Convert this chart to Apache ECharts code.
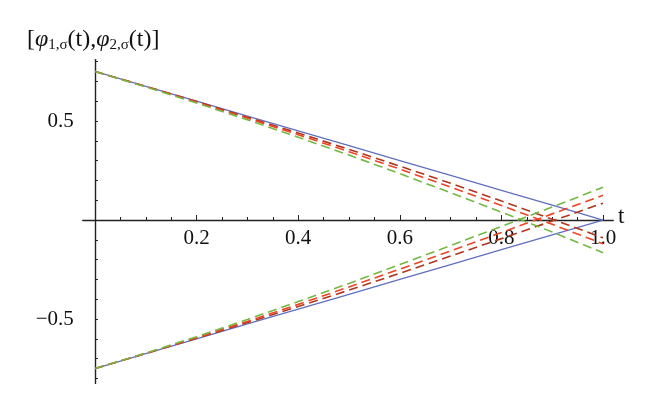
<!DOCTYPE html>
<html><head><meta charset="utf-8">
<script src="https://cdn.jsdelivr.net/npm/echarts@6/dist/echarts.min.js"></script>
<style>html,body{margin:0;padding:0;background:#fff}#c{width:660px;height:416px}</style>
</head><body><div id="c"></div>
<script>
var t = [0, 0.1, 0.2, 0.3, 0.4, 0.5, 0.6, 0.7, 0.8, 0.9, 1.0];
var blueUpper = [0.75, 0.675, 0.6, 0.525, 0.45, 0.375, 0.3, 0.225, 0.15, 0.075, 0];
var blueLower = [-0.75, -0.675, -0.6, -0.525, -0.45, -0.375, -0.3, -0.225, -0.15, -0.075, 0];
var darkRedUpper = [0.75, 0.675, 0.598, 0.519, 0.439, 0.357, 0.272, 0.186, 0.096, 0.004, -0.09];
var redUpper = [0.75, 0.674, 0.595, 0.514, 0.431, 0.345, 0.257, 0.166, 0.073, -0.022, -0.12];
var greenUpper = [0.75, 0.672, 0.591, 0.506, 0.418, 0.328, 0.234, 0.138, 0.040, -0.061, -0.165];
var darkRedLower = [-0.75, -0.674, -0.597, -0.518, -0.437, -0.354, -0.269, -0.182, -0.094, -0.005, 0.085];
var redLower = [-0.75, -0.673, -0.594, -0.512, -0.426, -0.338, -0.248, -0.156, -0.063, 0.031, 0.125];
var greenLower = [-0.75, -0.672, -0.589, -0.502, -0.412, -0.32, -0.225, -0.129, -0.032, 0.066, 0.165];
var xLabels = [0.2, 0.4, 0.6, 0.8, 1.0];
var xMinorTicks = [0.05,0.1,0.15,0.2,0.25,0.3,0.35,0.4,0.45,0.5,0.55,0.6,0.65,0.7,0.75,0.8,0.85,0.9,0.95,1.0];
var yLabels = [-0.5, 0.5];
var yMinorTicks = [-0.8,-0.7,-0.6,-0.5,-0.4,-0.3,-0.2,-0.1,0.1,0.2,0.3,0.4,0.5,0.6,0.7,0.8];

function pairs(ys){ return t.map(function(x,i){ return [x, ys[i]]; }); }
var FONT = 'Liberation Serif';
var BLUE = '#5f6fbf', DRED = '#b2361f', RED = '#ee4425', GREEN = '#74b843';
function ser(ys, color, dashed){
  return {type:'line', data: pairs(ys), symbol:'none', smooth:false, silent:true,
    lineStyle:{color:color, width: dashed?1.6:1.3, type: dashed?[9,5]:'solid'}};
}
var chart = echarts.init(document.getElementById('c'));
var X_OFFSET = -163.4;
chart.setOption({
  animation:false,
  grid:{left:82.8, right:46.8, top:59.6, bottom:32.6},
  xAxis:[{type:'value', min:-0.024, max:1.02, position:'bottom', offset:X_OFFSET, splitLine:{show:false},
    axisLine:{onZero:false, lineStyle:{color:'#222', width:1.4}},
    axisTick:{inside:true, length:3, customValues:xMinorTicks, lineStyle:{color:'#222'}},
    axisLabel:{customValues:xLabels, margin:8, color:'#111', fontFamily:FONT, fontSize:21,
      formatter:function(v){return v.toFixed(1);}}
  },{type:'value', min:-0.024, max:1.02, position:'bottom', offset:X_OFFSET, splitLine:{show:false},
    axisLine:{show:false, onZero:false},
    axisTick:{inside:true, length:5, customValues:xLabels, lineStyle:{color:'#222'}},
    axisLabel:{show:false}
  }],
  yAxis:{type:'value', min:-0.825, max:0.81, splitLine:{show:false},
    axisLine:{onZero:true, lineStyle:{color:'#222', width:1.4}},
    axisTick:{inside:true, length:3, customValues:yMinorTicks, lineStyle:{color:'#222'}},
    axisLabel:{customValues:yLabels, margin:9, color:'#111', fontFamily:FONT, fontSize:21,
      formatter:function(v){return v<0 ? '\u2212'+Math.abs(v).toFixed(1) : v.toFixed(1);}}
  },
  graphic:[
    {type:'text', left:27, top:28, style:{
      text:'[{i|φ}{s|1,σ}(t),{i|φ}{s|2,σ}(t)]',
      font:'24px "Liberation Serif"', fill:'#111',
      rich:{i:{fontFamily:FONT, fontSize:24, fontStyle:'italic', fill:'#111'},
            s:{fontFamily:FONT, fontSize:15, fill:'#111', padding:[11,0,0,0]}}
    }},
    {type:'text', left:618, top:205, style:{text:'t', font:'23px "Liberation Serif"', fill:'#111'}}
  ],
  series:[
    ser(blueUpper, BLUE, false), ser(blueLower, BLUE, false),
    ser(darkRedUpper, DRED, true), ser(darkRedLower, DRED, true),
    ser(redUpper, RED, true), ser(redLower, RED, true),
    ser(greenUpper, GREEN, true), ser(greenLower, GREEN, true)
  ]
});
</script></body></html>
